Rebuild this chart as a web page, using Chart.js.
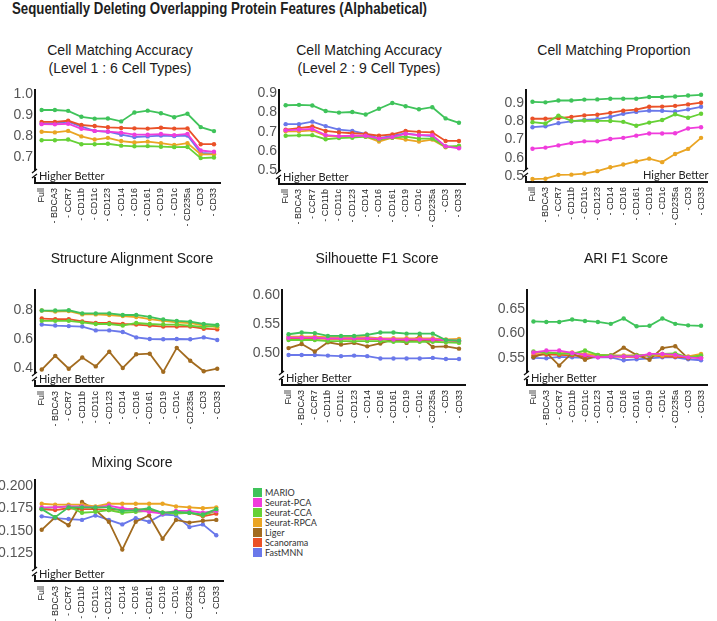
<!DOCTYPE html>
<html>
<head>
<meta charset="utf-8">
<script src="https://cdn.jsdelivr.net/npm/chart.js@4.4.0/dist/chart.umd.min.js"></script>
<style>
  body { margin: 0; width: 717px; height: 621px; position: relative; overflow: hidden; background: #fff;
         font-family: "Liberation Sans", Arial, sans-serif; }
  #main { position: absolute; left: 12px; top: -1px; font-weight: bold; font-size: 17px; color: #1e1e1e;
          white-space: nowrap; transform-origin: 0 0; }
  .ttl { position: absolute; font-size: 14px; color: #1a1a1a; text-align: center; line-height: 18px;
         white-space: nowrap; transform: translateX(-50%); }
  .panel { position: absolute; }
  #legend { position: absolute; left: 253px; top: 488px; font-family: Lato, "Open Sans", sans-serif; font-size: 9px; color: #333; }
  #legend div { height: 10px; line-height: 10px; white-space: nowrap; }
  #legend span { display: inline-block; width: 9px; height: 9px; margin-right: 3px; vertical-align: top; }
</style>
</head>
<body>
<div id="main">Sequentially Deleting Overlapping Protein Features (Alphabetical)</div>
<div id="legend"></div>
<script>
const categories = ["Full", "- BDCA3", "- CCR7", "- CD11b", "- CD11c", "- CD123", "- CD14",
  "- CD16", "- CD161", "- CD19", "- CD1c", "- CD235a", "- CD3", "- CD33"];
const methods = ["MARIO", "Seurat-PCA", "Seurat-CCA", "Seurat-RPCA", "Liger", "Scanorama", "FastMNN"];
const colors = ["#3fc35a", "#f03cdc", "#66d136", "#eaa524", "#a26b1f", "#ea5128", "#6a78ea"];

// rows follow the methods order, null = method not shown in that panel
const level1Acc = [
  [0.925,0.925,0.921,0.893,0.884,0.885,0.871,0.913,0.922,0.910,0.891,0.907,0.844,0.825],
  [0.858,0.857,0.860,0.836,0.826,0.823,0.818,0.808,0.808,0.811,0.806,0.812,0.733,0.727],
  [0.782,0.782,0.785,0.763,0.763,0.765,0.756,0.753,0.754,0.751,0.749,0.750,0.697,0.700],
  [0.822,0.819,0.826,0.800,0.785,0.793,0.778,0.771,0.775,0.768,0.759,0.768,0.715,0.715],
  null,
  [0.869,0.869,0.874,0.854,0.849,0.843,0.840,0.838,0.837,0.841,0.837,0.838,0.763,0.763],
  [0.862,0.862,0.870,0.846,0.826,0.822,0.808,0.797,0.800,0.804,0.801,0.804,0.722,0.718]
];
const level2Acc = [
  [0.838,0.840,0.837,0.808,0.800,0.803,0.790,0.820,0.850,0.833,0.817,0.828,0.770,0.747],
  [0.708,0.712,0.715,0.683,0.678,0.680,0.680,0.665,0.673,0.690,0.683,0.683,0.625,0.615],
  [0.680,0.682,0.683,0.662,0.668,0.670,0.675,0.660,0.670,0.675,0.665,0.665,0.623,0.628],
  [0.703,0.703,0.708,0.680,0.675,0.680,0.675,0.650,0.670,0.660,0.650,0.660,0.620,0.625],
  null,
  [0.712,0.720,0.728,0.705,0.697,0.693,0.690,0.680,0.687,0.705,0.700,0.697,0.653,0.653],
  [0.740,0.740,0.753,0.730,0.712,0.705,0.690,0.667,0.680,0.692,0.683,0.678,0.625,0.620]
];
const matchProp = [
  [0.905,0.902,0.912,0.912,0.917,0.918,0.922,0.922,0.922,0.931,0.931,0.934,0.939,0.943],
  [0.650,0.656,0.668,0.681,0.690,0.690,0.703,0.709,0.721,0.733,0.733,0.734,0.760,0.767],
  [0.794,0.787,0.830,0.801,0.803,0.801,0.801,0.796,0.775,0.792,0.806,0.837,0.818,0.840],
  [0.485,0.487,0.508,0.509,0.515,0.528,0.549,0.564,0.581,0.596,0.577,0.621,0.649,0.709],
  null,
  [0.813,0.813,0.816,0.823,0.831,0.835,0.845,0.857,0.862,0.878,0.879,0.883,0.891,0.900],
  [0.767,0.772,0.789,0.799,0.806,0.811,0.823,0.840,0.850,0.857,0.856,0.852,0.864,0.878]
];
const structAlign = [
  [0.800,0.800,0.802,0.780,0.780,0.780,0.769,0.769,0.755,0.737,0.728,0.722,0.706,0.699],
  null,
  [0.728,0.728,0.728,0.717,0.706,0.706,0.695,0.713,0.706,0.702,0.702,0.695,0.684,0.695],
  [0.800,0.793,0.796,0.773,0.773,0.769,0.762,0.755,0.740,0.728,0.717,0.713,0.695,0.684],
  [0.387,0.483,0.393,0.471,0.409,0.512,0.398,0.494,0.498,0.371,0.539,0.449,0.375,0.393],
  [0.744,0.740,0.740,0.724,0.713,0.713,0.706,0.702,0.695,0.688,0.688,0.688,0.673,0.668],
  [0.702,0.695,0.691,0.688,0.661,0.661,0.650,0.612,0.601,0.599,0.601,0.599,0.612,0.594]
];
const silhouetteF1 = [
  [0.532,0.535,0.534,0.529,0.529,0.529,0.531,0.535,0.535,0.533,0.533,0.533,0.522,0.521],
  [0.526,0.526,0.526,0.525,0.525,0.525,0.525,0.524,0.523,0.523,0.523,0.523,0.522,0.521],
  [0.522,0.522,0.522,0.520,0.520,0.520,0.520,0.520,0.519,0.519,0.519,0.519,0.518,0.517],
  [0.528,0.528,0.528,0.527,0.527,0.527,0.527,0.525,0.525,0.525,0.525,0.525,0.523,0.524],
  [0.508,0.515,0.502,0.518,0.514,0.517,0.511,0.516,0.523,0.517,0.528,0.510,0.511,0.507],
  [0.524,0.524,0.525,0.524,0.524,0.524,0.524,0.523,0.522,0.522,0.522,0.522,0.521,0.520],
  [0.496,0.496,0.496,0.495,0.494,0.495,0.494,0.490,0.490,0.490,0.490,0.491,0.489,0.489]
];
const ariF1 = [
  [0.625,0.624,0.624,0.629,0.626,0.624,0.620,0.631,0.615,0.616,0.631,0.620,0.617,0.616],
  [0.561,0.565,0.565,0.560,0.556,0.551,0.553,0.553,0.553,0.558,0.558,0.556,0.551,0.549],
  [0.563,0.561,0.559,0.558,0.565,0.556,0.555,0.553,0.555,0.556,0.558,0.559,0.551,0.555],
  [0.560,0.561,0.559,0.561,0.558,0.556,0.555,0.555,0.555,0.556,0.555,0.555,0.553,0.558],
  [0.551,0.561,0.534,0.560,0.546,0.555,0.555,0.571,0.556,0.546,0.570,0.574,0.549,0.556],
  [0.555,0.557,0.556,0.555,0.553,0.553,0.553,0.552,0.552,0.555,0.553,0.552,0.551,0.551],
  [0.550,0.549,0.552,0.551,0.550,0.551,0.551,0.545,0.547,0.549,0.551,0.551,0.547,0.545]
];
const mixing = [
  [0.174,0.165,0.176,0.176,0.176,0.176,0.172,0.173,0.175,0.170,0.171,0.170,0.168,0.174],
  [0.176,0.176,0.177,0.177,0.176,0.178,0.175,0.173,0.171,0.169,0.172,0.172,0.170,0.172],
  [0.175,0.176,0.177,0.170,0.171,0.173,0.170,0.171,0.172,0.170,0.169,0.170,0.167,0.172],
  [0.180,0.179,0.179,0.179,0.177,0.180,0.180,0.180,0.180,0.180,0.177,0.176,0.175,0.176],
  [0.151,0.165,0.156,0.182,0.173,0.160,0.129,0.160,0.167,0.141,0.162,0.159,0.161,0.162],
  [0.174,0.173,0.175,0.174,0.174,0.173,0.174,0.174,0.173,0.170,0.170,0.170,0.166,0.169],
  [0.166,0.164,0.163,0.162,0.167,0.162,0.157,0.164,0.160,0.168,0.167,0.154,0.157,0.145]
];

const level1Ticks = [0.7, 0.8, 0.9, 1.0];
const level2Ticks = [0.5, 0.6, 0.7, 0.8, 0.9];
const propTicks = [0.5, 0.6, 0.7, 0.8, 0.9];
const structTicks = [0.4, 0.6, 0.8];
const silTicks = [0.50, 0.55, 0.60];
const ariTicks = [0.55, 0.60, 0.65];
const mixTicks = [0.125, 0.150, 0.175, 0.200];

// panel placement: canvas box, axis sizes, y range
const panels = [
  { title: ["Cell Matching Accuracy", "(Level 1 : 6 Cell Types)"], tx: 120, ty: 41,
    data: level1Acc, ticks: level1Ticks, dec: 1, min: 0.579, max: 1.018,
    left: 0, top: 80, w: 230, h: 170, yw: 35, padTop: 5, padRight: 6, xh: 67 },
  { title: ["Cell Matching Accuracy", "(Level 2 : 9 Cell Types)"], tx: 369, ty: 41,
    data: level2Acc, ticks: level2Ticks, dec: 1, min: 0.43, max: 0.915,
    left: 240, top: 80, w: 235, h: 170, yw: 39, padTop: 7, padRight: 7, xh: 66 },
  { title: ["Cell Matching Proportion"], tx: 614, ty: 41,
    data: matchProp, ticks: propTicks, dec: 1, min: 0.469, max: 0.967, hbRight: true,
    left: 480, top: 80, w: 237, h: 170, yw: 46, padTop: 5, padRight: 2, xh: 68 },
  { title: ["Structure Alignment Score"], tx: 132, ty: 249,
    data: structAlign, ticks: structTicks, dec: 1, min: 0.272, max: 0.941,
    left: 0, top: 280, w: 235, h: 165, yw: 35, padTop: 7, padRight: 11, xh: 59 },
  { title: ["Silhouette F1 Score"], tx: 377, ty: 249,
    data: silhouetteF1, ticks: silTicks, dec: 2, min: 0.444, max: 0.608,
    left: 240, top: 280, w: 235, h: 165, yw: 42, padTop: 3, padRight: 5, xh: 60 },
  { title: ["ARI F1 Score"], tx: 626, ty: 249,
    data: ariF1, ticks: ariTicks, dec: 2, min: 0.494, max: 0.689,
    left: 480, top: 280, w: 237, h: 165, yw: 47, padTop: 3, padRight: 2, xh: 60 },
  { title: ["Mixing Score"], tx: 132, ty: 453,
    data: mixing, ticks: mixTicks, dec: 3, min: 0.094, max: 0.206,
    left: 0, top: 470, w: 235, h: 151, yw: 35, padTop: 5, padRight: 12, xh: 40 }
];

// axis break mark + "Higher Better" note
const decor = {
  id: 'decor',
  afterDraw(chart) {
    const o = chart.options.plugins.decor || {};
    const a = chart.chartArea, c = chart.ctx;
    c.save();
    const x = a.left, y = a.bottom - 9;
    c.fillStyle = '#fff';
    c.fillRect(x - 2, y - 3, 4, 6);
    c.strokeStyle = '#111';
    c.lineWidth = 1.3;
    c.beginPath();
    c.moveTo(x - 3, y - 1); c.lineTo(x + 2, y - 5);
    c.moveTo(x - 3, y + 4); c.lineTo(x + 2, y);
    c.stroke();
    c.font = '11px Lato, "Open Sans", sans-serif';
    c.fillStyle = '#222';
    c.textBaseline = 'alphabetic';
    if (o.right) {
      c.textAlign = 'right';
      c.fillText('Higher Better', a.right + 1, a.bottom - 3);
    } else {
      c.textAlign = 'left';
      c.fillText('Higher Better', a.left + 4, a.bottom - 3);
    }
    c.restore();
  }
};

panels.forEach((p, i) => {
  p.title.forEach((line, k) => {
    const t = document.createElement('div');
    t.className = 'ttl';
    t.style.left = p.tx + 'px';
    t.style.top = (p.ty + k * 18) + 'px';
    t.textContent = line;
    document.body.appendChild(t);
  });

  const box = document.createElement('div');
  box.className = 'panel';
  box.style.left = p.left + 'px';
  box.style.top = p.top + 'px';
  const cv = document.createElement('canvas');
  cv.width = p.w; cv.height = p.h;
  cv.style.width = p.w + 'px'; cv.style.height = p.h + 'px';
  box.appendChild(cv);
  document.body.appendChild(box);

  const datasets = [];
  p.data.forEach((vals, m) => {
    if (!vals) return;
    datasets.push({
      label: methods[m],
      data: vals,
      borderColor: colors[m],
      backgroundColor: colors[m],
      pointBackgroundColor: colors[m],
      borderWidth: 1.8,
      pointRadius: 2.2,
      pointBorderWidth: 0,
      tension: 0
    });
  });

  new Chart(cv.getContext('2d'), {
    type: 'line',
    data: { labels: categories, datasets: datasets },
    plugins: [decor],
    options: {
      responsive: false,
      animation: false,
      devicePixelRatio: 1,
      layout: { padding: { top: p.padTop, right: p.padRight, left: 0, bottom: 0 } },
      plugins: {
        legend: { display: false },
        tooltip: { enabled: false },
        decor: { right: !!p.hbRight }
      },
      scales: {
        x: {
          offset: true,
          grid: { display: false, drawTicks: false },
          border: { display: true, color: '#111', width: 2 },
          ticks: {
            autoSkip: false, maxRotation: 90, minRotation: 90, padding: 5,
            color: '#222', font: { size: 9, family: '"Liberation Sans", Arial, sans-serif' }
          },
          afterFit(s) { s.height = p.xh; }
        },
        y: {
          min: p.min, max: p.max,
          grid: { display: false, drawTicks: false },
          border: { display: true, color: '#111', width: 2 },
          ticks: {
            color: '#555', padding: 2,
            font: { size: 14, family: '"Liberation Sans", Arial, sans-serif' },
            callback: v => Number(v).toFixed(p.dec)
          },
          afterBuildTicks(s) { s.ticks = p.ticks.map(v => ({ value: v })); },
          afterFit(s) { s.width = p.yw; }
        }
      }
    }
  });
});

const legend = document.getElementById('legend');
methods.forEach((m, i) => {
  const row = document.createElement('div');
  const sw = document.createElement('span');
  sw.style.background = colors[i];
  row.appendChild(sw);
  row.appendChild(document.createTextNode(m));
  legend.appendChild(row);
});

const mainEl = document.getElementById('main');
const mw = mainEl.getBoundingClientRect().width;
mainEl.style.transform = 'scaleX(' + (415 / mw) + ')';
</script>
</body>
</html>
